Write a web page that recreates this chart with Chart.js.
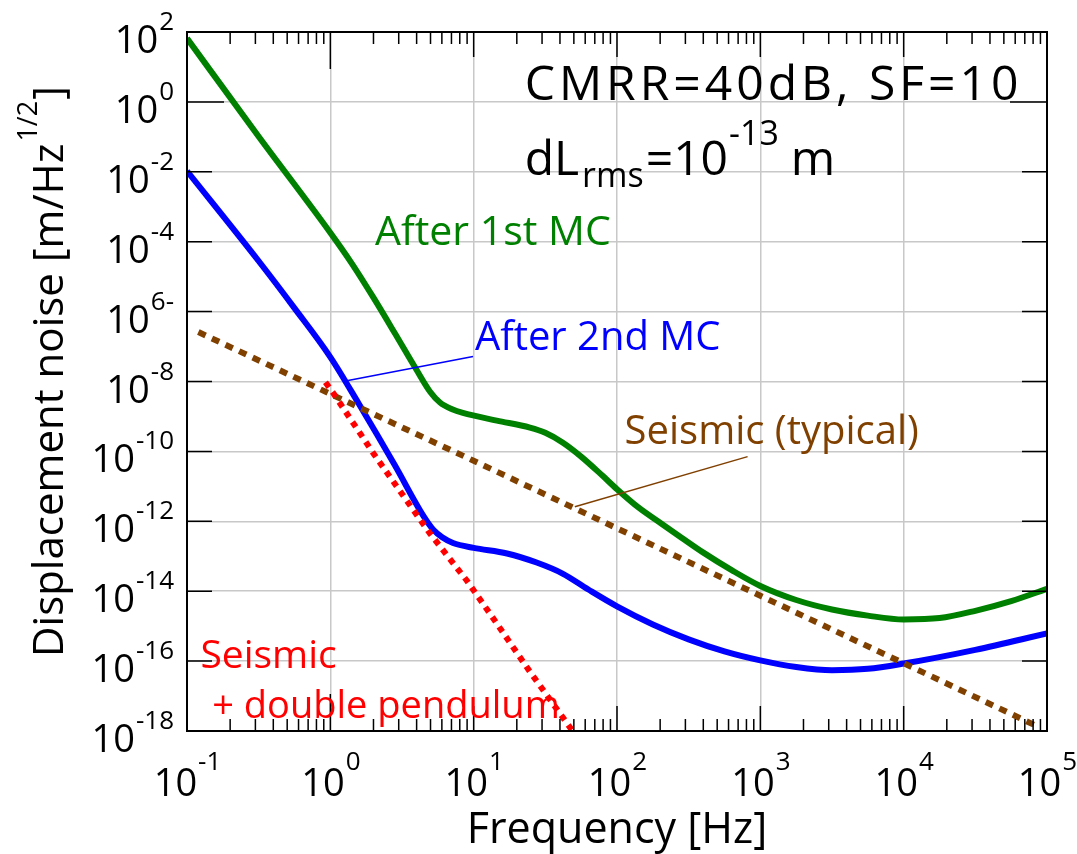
<!DOCTYPE html>
<html>
<head>
<meta charset="utf-8">
<script src="https://cdn.jsdelivr.net/npm/chart.js@4.4.1/dist/chart.umd.min.js"></script>
<style>
  html, body { margin: 0; padding: 0; background: #fff; }
  #wrap { width: 1077px; height: 854px; }
</style>
</head>
<body>
<div id="wrap"><canvas id="noiseChart" width="1077" height="854"></canvas></div>
<script>
const FONT = '"Open Sans", "Noto Sans", sans-serif';

// axis ticks (powers of ten)
const xTickExps = [-1, 0, 1, 2, 3, 4, 5];
const xTickLabels = ['-1', '0', '1', '2', '3', '4', '5'];
const yTickExps = [2, 0, -2, -4, -6, -8, -10, -12, -14, -16, -18];
const yTickLabels = ['2', '0', '-2', '-4', '6-', '-8', '-10', '-12', '-14', '-16', '-18'];

// After 1st MC (green)
const freqGreen = [0.1, 0.316, 1, 1.41, 2.0, 2.82, 3.98, 4.98, 5.82, 7.08, 8.41, 14.5, 24.7, 31.6, 41.7, 56.2, 79.4, 100, 141, 200, 282, 398, 631, 1000, 1780, 3160, 5620, 1e4, 1.78e4, 3.16e4, 5.62e4, 1e5];
const noiseGreen = [66, 0.102, 1.8e-4, 2.4e-5, 2.5e-6, 2.4e-7, 2.2e-8, 5.0e-9, 2.5e-9, 1.6e-9, 1.26e-9, 7.6e-10, 4.8e-10, 3.4e-10, 1.8e-10, 7.1e-11, 2.0e-11, 8.3e-12, 2.5e-12, 9.1e-13, 3.4e-13, 1.29e-13, 4.0e-14, 1.41e-14, 5.6e-15, 3.0e-15, 2.0e-15, 1.55e-15, 1.7e-15, 2.75e-15, 5.2e-15, 1.17e-14];

// After 2nd MC (blue)
const freqBlue = [0.1, 0.316, 0.562, 1, 1.58, 2.82, 4.47, 5.25, 6.03, 7.18, 10, 17.1, 27.5, 41.7, 63.1, 100, 178, 316, 562, 1000, 1780, 3160, 5620, 1e4, 3.16e4, 1e5];
const noiseBlue = [1.05e-2, 2.8e-5, 1.26e-6, 5.0e-8, 2.3e-9, 4.0e-11, 1.4e-12, 5.6e-13, 3.5e-13, 2.4e-13, 1.74e-13, 1.2e-13, 6.6e-14, 3.2e-14, 1.12e-14, 3.7e-15, 1.12e-15, 4.2e-16, 1.9e-16, 1.05e-16, 6.8e-17, 5.5e-17, 6.0e-17, 8.5e-17, 2.1e-16, 6.2e-16];

// Seismic (typical), brown dotted
const freqSeismic = [0.12, 1, 10, 100, 1000, 1e4, 8.9e4];
const noiseSeismic = [2.6e-7, 4.4e-9, 5.4e-11, 6.3e-13, 7.4e-15, 8.7e-17, 1.26e-18];

// Seismic + double pendulum, red dotted
const freqPendulum = [0.925, 1.05, 2.0, 4.95, 8.97, 13.6, 24.5, 49];
const noisePendulum = [9.5e-9, 4.6e-9, 8.7e-11, 4.5e-13, 2.0e-14, 1.74e-15, 5.2e-17, 1.0e-18];

const toPoints = (xs, ys) => xs.map((x, i) => ({ x: x, y: ys[i] }));

// text labels placed in data coordinates
const notes = [
    { text: 'After 1st MC', f: 2.05, v: 7.8e-5, color: '#008000', size: 41 },
    { text: 'After 2nd MC', f: 10.2, v: 7.8e-8, color: '#0000ff', size: 40 },
    { text: 'Seismic (typical)', f: 113, v: 1.66e-10, color: '#804000', size: 40 },
    { text: 'Seismic', f: 0.124, v: 6.5e-17, color: '#ff0000', size: 39 },
    { text: '+ double pendulum', f: 0.15, v: 2.4e-18, color: '#ff0000', size: 38 }
];
const leaders = [
    { from: [1.33, 1.07e-8], to: [9.9, 5.2e-8], color: '#0000ff' },
    { from: [50.8, 2.6e-12], to: [815, 7.1e-11], color: '#804000' }
];

function drawPower(ctx, x, y, exp, align, baseSize, expSize, rise) {
    ctx.font = baseSize + 'px ' + FONT;
    const wb = ctx.measureText('10').width;
    ctx.font = expSize + 'px ' + FONT;
    const we = ctx.measureText(exp).width;
    const left = align === 'right' ? x - wb - we : x - (wb + we) / 2;
    ctx.font = baseSize + 'px ' + FONT;
    ctx.fillText('10', left, y);
    ctx.font = expSize + 'px ' + FONT;
    ctx.fillText(exp, left + wb + 1, y - rise);
}

const decorPlugin = {
    id: 'decor',
    afterDatasetsDraw(chart) {
        const { ctx, chartArea: a, scales: { x, y } } = chart;
        ctx.save();

        // leader lines
        ctx.lineWidth = 1.5;
        leaders.forEach(l => {
            ctx.strokeStyle = l.color;
            ctx.beginPath();
            ctx.moveTo(x.getPixelForValue(l.from[0]), y.getPixelForValue(l.from[1]));
            ctx.lineTo(x.getPixelForValue(l.to[0]), y.getPixelForValue(l.to[1]));
            ctx.stroke();
        });

        // inward tick marks
        ctx.strokeStyle = '#000';
        ctx.lineWidth = 1.5;
        ctx.beginPath();
        for (let d = -1; d < 5; d++) {
            for (let m = 1; m < 10; m++) {
                const px = x.getPixelForValue(m * Math.pow(10, d));
                const len = m === 1 ? (d === 0 ? 37 : 25) : 12;
                ctx.moveTo(px, a.bottom); ctx.lineTo(px, a.bottom - len);
                ctx.moveTo(px, a.top); ctx.lineTo(px, a.top + len);
            }
        }
        yTickExps.forEach(e => {
            const py = y.getPixelForValue(Math.pow(10, e));
            const len = e === 0 ? 37 : 25;
            ctx.moveTo(a.left, py); ctx.lineTo(a.left + len, py);
            ctx.moveTo(a.right, py); ctx.lineTo(a.right - len, py);
        });
        ctx.stroke();

        // frame
        ctx.lineWidth = 2;
        ctx.strokeRect(a.left, a.top, a.right - a.left, a.bottom - a.top);

        // tick labels
        ctx.fillStyle = '#000';
        ctx.textAlign = 'left';
        ctx.textBaseline = 'alphabetic';
        yTickExps.forEach((e, i) => {
            const py = y.getPixelForValue(Math.pow(10, e));
            drawPower(ctx, a.left - 14, py + 21, yTickLabels[i], 'right', 38, 26, 23);
        });
        xTickExps.forEach((e, i) => {
            const px = x.getPixelForValue(Math.pow(10, e));
            drawPower(ctx, px, a.bottom + 65, xTickLabels[i], 'center', 38, 26, 26);
        });

        // axis titles
        ctx.font = '43px ' + FONT;
        ctx.textAlign = 'center';
        ctx.fillText('Frequency [Hz]', (a.left + a.right) / 2, a.bottom + 112);

        ctx.textAlign = 'left';
        const main = 'Displacement noise [m/Hz';
        ctx.font = '42px ' + FONT;
        const w1 = ctx.measureText(main).width;
        const w3 = ctx.measureText(']').width;
        ctx.font = '27px ' + FONT;
        const w2 = ctx.measureText('1/2').width;
        const total = w1 + w2 + w3 + 3;
        ctx.save();
        ctx.translate(63, (a.top + a.bottom) / 2 - 10);
        ctx.rotate(-Math.PI / 2);
        ctx.font = '42px ' + FONT;
        ctx.fillText(main, -total / 2, 0);
        ctx.font = '27px ' + FONT;
        ctx.fillText('1/2', -total / 2 + w1 + 2, -26);
        ctx.font = '42px ' + FONT;
        ctx.fillText(']', -total / 2 + w1 + w2 + 3, 0);
        ctx.restore();

        // coloured labels
        notes.forEach(n => {
            ctx.font = n.size + 'px ' + FONT;
            ctx.fillStyle = n.color;
            ctx.fillText(n.text, x.getPixelForValue(n.f), y.getPixelForValue(n.v));
        });

        // parameters
        ctx.fillStyle = '#000';
        const px0 = x.getPixelForValue(22.7);
        ctx.font = '48px ' + FONT;
        ctx.letterSpacing = '4px';
        ctx.fillText('CMRR=40dB, SF=10', px0, y.getPixelForValue(1.11));
        ctx.letterSpacing = '0px';
        const by = y.getPixelForValue(7.9e-3);
        let cx = px0;
        ctx.font = '48px ' + FONT;
        ctx.fillText('dL', cx, by); cx += ctx.measureText('dL').width + 3;
        ctx.font = '34px ' + FONT;
        ctx.fillText('rms', cx, by + 12); cx += ctx.measureText('rms').width + 2;
        ctx.font = '48px ' + FONT;
        ctx.fillText('=10', cx, by); cx += ctx.measureText('=10').width + 1;
        ctx.font = '34px ' + FONT;
        ctx.fillText('-13', cx, by - 30); cx += ctx.measureText('-13').width + 12;
        ctx.font = '48px ' + FONT;
        ctx.fillText('m', cx, by);

        ctx.restore();
    }
};

const lineBase = { pointRadius: 0, borderWidth: 6, fill: false, borderCapStyle: 'butt' };

new Chart(document.getElementById('noiseChart').getContext('2d'), {
    type: 'line',
    data: {
        datasets: [
            Object.assign({ label: 'After 1st MC', data: toPoints(freqGreen, noiseGreen), borderColor: '#008000', cubicInterpolationMode: 'monotone', order: 3 }, lineBase),
            Object.assign({ label: 'After 2nd MC', data: toPoints(freqBlue, noiseBlue), borderColor: '#0000ff', cubicInterpolationMode: 'monotone', order: 2 }, lineBase),
            Object.assign({ label: 'Seismic (typical)', data: toPoints(freqSeismic, noiseSeismic), borderColor: '#804000', borderDash: [8, 7], order: 1 }, lineBase),
            Object.assign({ label: 'Seismic + double pendulum', data: toPoints(freqPendulum, noisePendulum), borderColor: '#ff0000', borderDash: [6, 6], order: 0 }, lineBase)
        ]
    },
    options: {
        responsive: false,
        animation: false,
        devicePixelRatio: 1,
        layout: { padding: { left: 187, top: 32, right: 30, bottom: 123 } },
        plugins: { legend: { display: false }, tooltip: { enabled: false } },
        scales: {
            x: {
                type: 'logarithmic',
                min: 0.1,
                max: 1e5,
                ticks: { display: false },
                grid: { color: '#c8c8c8', lineWidth: 1.5, drawTicks: false },
                border: { display: false },
                afterBuildTicks: s => { s.ticks = xTickExps.map(e => ({ value: Math.pow(10, e) })); }
            },
            y: {
                type: 'logarithmic',
                min: 1e-18,
                max: 1e2,
                ticks: { display: false },
                grid: { color: '#c8c8c8', lineWidth: 1.5, drawTicks: false },
                border: { display: false },
                afterBuildTicks: s => { s.ticks = yTickExps.map(e => ({ value: Math.pow(10, e) })); }
            }
        }
    },
    plugins: [decorPlugin]
});
</script>
</body>
</html>
